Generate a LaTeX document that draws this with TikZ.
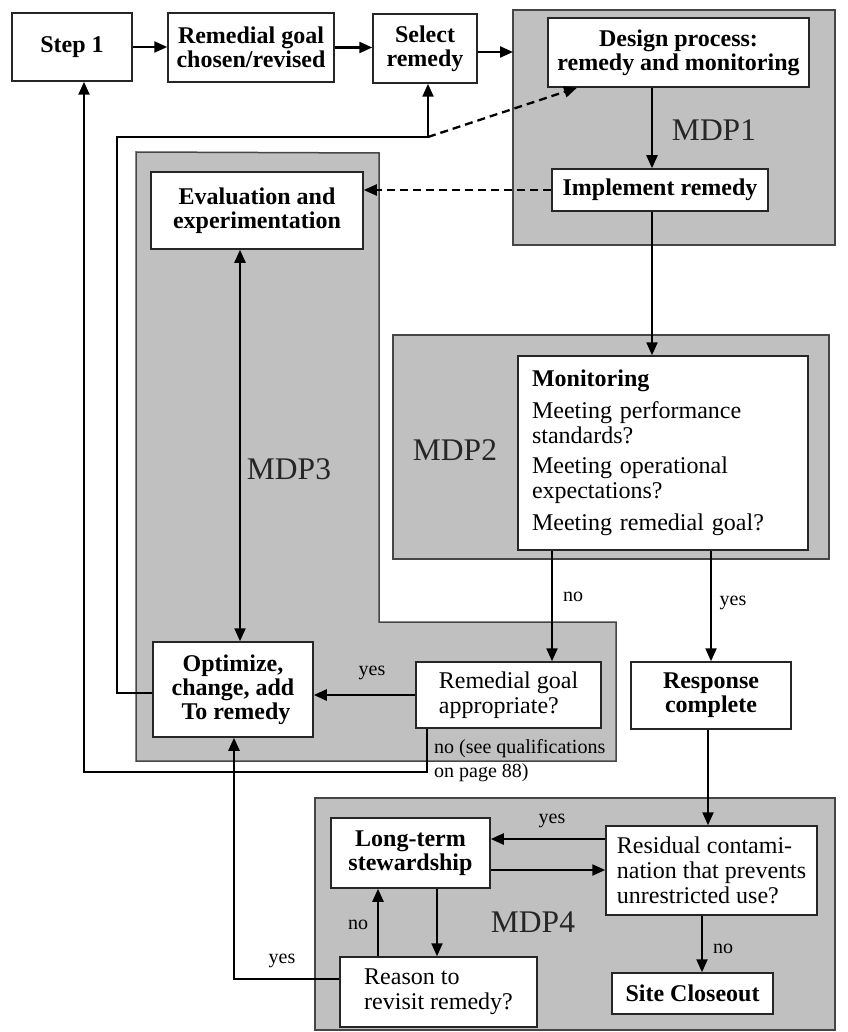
\documentclass[tikz,border=0pt]{standalone}
\usepackage{fontspec}
\setmainfont{Liberation Serif}
\usetikzlibrary{arrows.meta}
\definecolor{zonegray}{RGB}{192,192,192}
\definecolor{zoneedge}{RGB}{70,70,70}
\begin{document}
\begin{tikzpicture}[x=1pt,y=-1pt,
  >={Triangle[length=13pt,width=11pt]},
  box/.style={draw=black!85, line width=1.5pt, fill=white, inner sep=0pt, align=center},
  bt/.style={font=\fontsize{24}{24}\selectfont\bfseries},
  rt/.style={font=\fontsize{24}{25}\selectfont},
  zone/.style={fill=zonegray, draw=zoneedge, line width=1.5pt},
  arr/.style={line width=2.3pt, ->},
  dasharr/.style={line width=2.3pt, ->, dash pattern=on 8pt off 5pt},
  lab/.style={font=\fontsize{20}{21}\selectfont, inner sep=0pt},
  zlab/.style={font=\fontsize{31.5}{32}\selectfont, text=black!85, inner sep=0pt}]
\useasboundingbox (0,0) rectangle (847,1032);
% zones
\path[zone] (513,10) rectangle (835,245);
\path[zone] (393,335) rectangle (829,559);
\path[zone] (136,152) -- (379,153) -- (379,622) -- (616,622) -- (616,761) -- (136,761) -- cycle;
\path[zone] (315,798) rectangle (835,1030);
\node[zlab] (mdp1) at (714,130) {MDP1};
\node[zlab] (mdp2) at (455,450) {MDP2};
\node[zlab] (mdp3) at (289,469) {MDP3};
\node[zlab] (mdp4) at (533,922) {MDP4};
% boxes
\node[box,bt,minimum width=120pt,minimum height=68pt] (step1) at (72,47) {Step 1};
\node[box,bt,minimum width=166pt,minimum height=69pt] (goal) at (251,47.5) {Remedial goal\\chosen/revised};
\node[box,bt,minimum width=104pt,minimum height=69pt] (select) at (425,48.5) {Select\\remedy};
\node[box,bt,minimum width=261pt,minimum height=69pt] (design) at (678.5,52.5) {Design process:\\remedy and monitoring};
\node[box,bt,minimum width=216pt,minimum height=42pt] (implement) at (660,190) {Implement remedy};
\node[box,bt,minimum width=212pt,minimum height=77pt] (eval) at (257,210.5) {Evaluation and\\experimentation};
\node[box,rt,minimum width=290pt,minimum height=194pt,align=left,text width=262pt] (monitor) at (663,453)
  {\textbf{Monitoring}\\[7pt] Meeting performance\\ standards?\\[5pt] Meeting operational\\ expectations?\\[7pt] Meeting remedial goal?};
\node[box,bt,minimum width=160pt,minimum height=95pt] (optimize) at (233,689.5) {Optimize,\\change, add\\\ To remedy};
\node[box,rt,minimum width=185pt,minimum height=66pt,align=left] (appropriate) at (508.5,695) {Remedial goal\\appropriate?};
\node[box,bt,minimum width=160pt,minimum height=67pt] (response) at (711,695.5) {Response\\complete};
\node[box,bt,minimum width=159pt,minimum height=70pt] (longterm) at (410.5,853) {Long-term\\stewardship};
\node[box,rt,minimum width=211pt,minimum height=89pt,align=left] (residual) at (711.5,870.5) {Residual contami-\\nation that prevents\\unrestricted use?};
\node[box,rt,minimum width=197pt,minimum height=70pt,align=left] (reason) at (438.5,992) {Reason to\\revisit remedy?};
\node[box,bt,minimum width=161pt,minimum height=41pt] (closeout) at (692.5,993.5) {Site Closeout};
% top row
\draw[arr] (step1.east) -- (goal.west |- step1.east);
\draw[arr] (goal.east) -- (select.west |- goal.east);
\coordinate (mdp1w) at (513,52);
\draw[arr] (select.east |- mdp1w) -- (mdp1w);
\draw[arr] (design.south -| 652,0) -- (implement.north -| 652,0);
\draw[arr] (implement.south -| 652,0) -- (monitor.north -| 652,0);
\draw[dasharr] (implement.west) -- (eval.east |- implement.west);
% loop back to select remedy
\coordinate (loopL) at (117,137);
\coordinate (loopR) at (428,137);
\draw[arr] (optimize.west |- 0,693) -- (loopL |- 0,693) -- (loopL) -- (loopR) -- (select.south -| loopR);
\draw[dasharr] (loopR) -- (design.south -| 577,0);
\draw[line width=2.3pt,<->] (eval.south -| 240,0) -- (optimize.north -| 240,0);
% MDP2 outputs
\draw[arr] (monitor.south -| 552,0) -- (appropriate.north -| 552,0);
\node[lab] (lno1) at (573,597) {no};
\draw[arr] (monitor.south -| 711,0) -- (response.north -| 711,0);
\node[lab] (lyes1) at (733,603) {yes};
\draw[arr] (appropriate.west) -- (optimize.east |- appropriate.west);
\node[lab] (lyes2) at (372,673) {yes};
\coordinate (back) at (84,772);
\draw[arr] (appropriate.south -| 427,0) -- (427,772) -- (back) -- (step1.south -| back);
\node[lab,anchor=west] (lno2) at (434,749) {no (see qualifications};
\node[lab,anchor=west] (lno3) at (434,773) {on page 88)};
% MDP4
\draw[arr] (response.south -| 708,0) -- (residual.north -| 708,0);
\draw[arr] (residual.west |- 0,839) -- (longterm.east |- 0,839);
\node[lab] (lyes3) at (552,821) {yes};
\draw[arr] (longterm.east |- 0,870) -- (residual.west |- 0,870);
\draw[arr] (longterm.south -| 437,0) -- (reason.north -| 437,0);
\draw[arr] (reason.north -| 378,0) -- (longterm.south -| 378,0);
\node[lab] (lno4) at (358,925) {no};
\coordinate (revl) at (234,979);
\draw[arr] (reason.west |- revl) -- (revl) -- (optimize.south -| revl);
\node[lab] (lyes4) at (282,961) {yes};
\draw[arr] (residual.south -| 702,0) -- (closeout.north -| 702,0);
\node[lab] (lno5) at (723,949) {no};
\end{tikzpicture}
\end{document}
